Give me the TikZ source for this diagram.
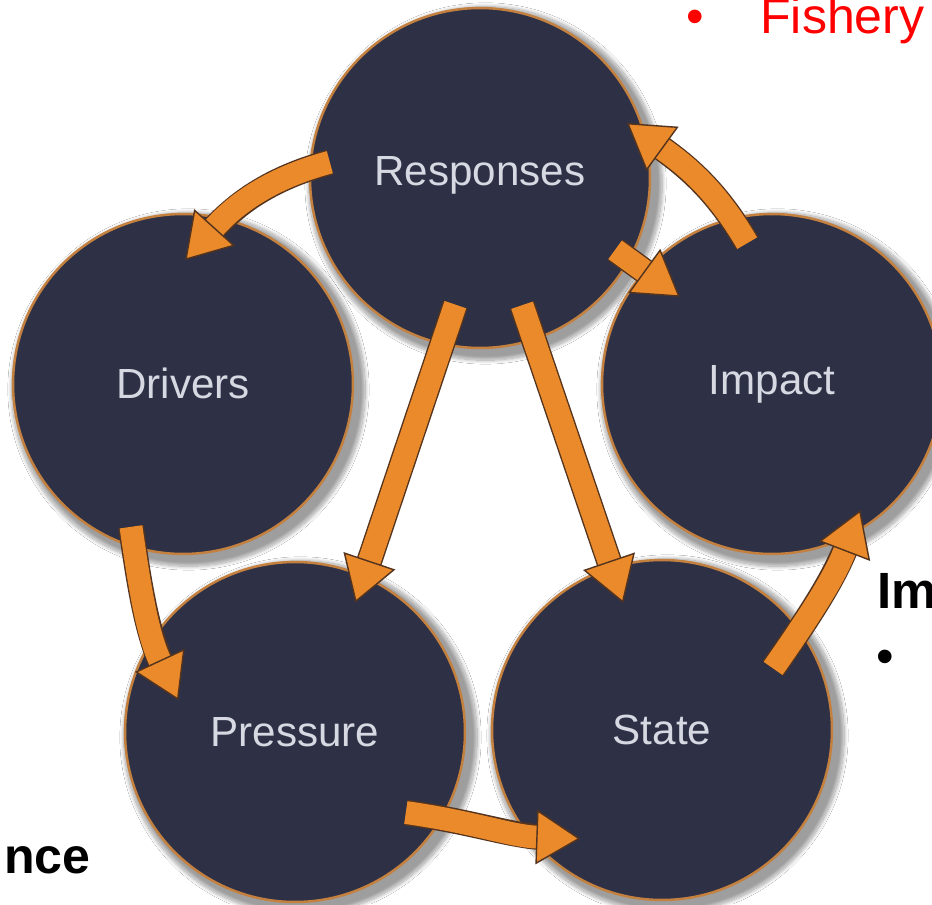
\documentclass[tikz,border=0pt]{standalone}
\usepackage{fontspec}
\setmainfont{Liberation Sans}
\usetikzlibrary{arrows.meta,shadows.blur,calc}

\definecolor{stagefill}{RGB}{46,49,70}
\definecolor{stagerim}{RGB}{196,128,62}
\definecolor{stagetext}{RGB}{214,216,226}
\definecolor{flowfill}{RGB}{234,138,42}
\definecolor{flowedge}{RGB}{84,52,30}

\tikzset{
  stage/.style={circle, minimum size=6.8cm, inner sep=0pt, fill=stagefill, draw=stagerim,
    line width=1.4pt, text=stagetext, font=\fontsize{24}{28}\selectfont,
    text height=17pt, text depth=0pt,
    blur shadow={shadow xshift=3pt, shadow yshift=-3pt, shadow scale=1.04,
      shadow opacity=38, shadow blur steps=14}},
  flow/.style={line width=13pt, draw=flowfill,
    -{Triangle[width=31pt,length=25pt,fill=flowfill,color=flowedge,line width=0.8pt]},
    preaction={draw=flowedge, line width=14.6pt, -, shorten >=20pt}},
  slidetext/.style={inner sep=0pt, font=\fontsize{28.5}{34}\selectfont}
}

\begin{document}
\begin{tikzpicture}[x=0.02cm, y=0.02cm]
% Page frame
\path[use as bounding box, clip] (0,0) rectangle (932,904);
\fill[white] (0,0) rectangle (932,904);

% The five stages
\node[stage, text depth=8pt] (resp) at (480,726) {Responses};
\node[stage] (drv) at (183,520) {Drivers};
\node[stage, text depth=5pt] (imp) at (772,520) {Impact};
\node[stage] (pres) at (295,172) {Pressure};
\node[stage] (stat) at (662,174) {State};

% Outer loop
\draw[flow] ($(resp)+(174:151)$) to[out=195,in=48] ($(drv)+(89:124)$);
\draw[flow] ($(drv)+(-110:152)$) to[out=-82,in=115] ($(pres)+(164.7:121)$);
\draw[flow] ($(pres)+(-36:137)$) to[out=-8,in=178] ($(stat)+(-127:136)$);
\draw[flow] ($(stat)+(29:127)$) to[out=55,in=249] ($(imp)+(-55:154)$);
\draw[flow] ($(imp)+(100:143)$) to[out=120,in=-36] ($(resp)+(20.5:157)$);

% Responses feed back
\draw[flow] ($(resp)+(-28:153)$) -- ($(imp)+(136.6:127)$);
\draw[flow] ($(resp)+(-101:129)$) -- ($(pres)+(65:143)$);
\draw[flow] ($(resp)+(-71.7:134)$) -- ($(stat)+(107:133)$);

% Slide text around the picture
\node[slidetext, text=red, anchor=base] (redbullet) at (695,870) {•};
\node[slidetext, text=red, anchor=base west] (fishery) at (760,870) {Fishery};
\node[slidetext, font=\fontsize{29}{34}\selectfont\bfseries, anchor=base west] (imword) at (877,296) {Im};
\node[slidetext, anchor=base] (blackbullet) at (885,231) {•};
\node[slidetext, font=\fontsize{28.5}{34}\selectfont\bfseries, anchor=base east] (nceword) at (91,31) {nce};
\end{tikzpicture}
\end{document}
